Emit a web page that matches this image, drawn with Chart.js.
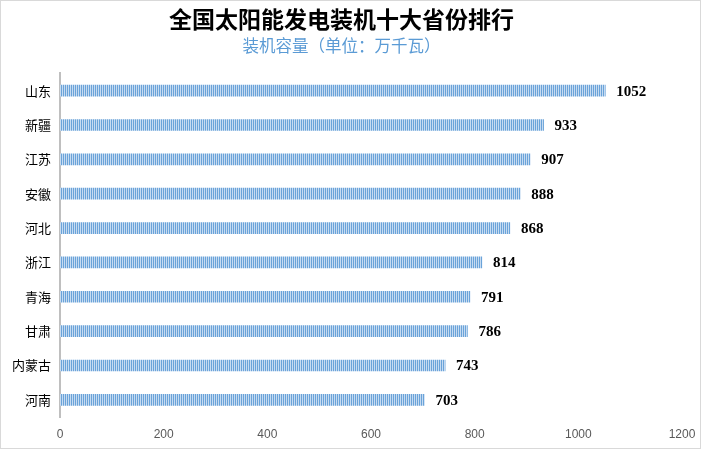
<!DOCTYPE html>
<html>
<head>
<meta charset="utf-8">
<script src="https://cdn.jsdelivr.net/npm/chart.js@4"></script>
<style>
  html, body { margin: 0; padding: 0; background: #fff; }
  .box { width: 701px; height: 449px; box-sizing: border-box; border: 1px solid #d9d9d9; }
  canvas { display: block; }
</style>
</head>
<body>
<div class="box"><canvas id="rank" width="699" height="447"></canvas></div>
<script>
"use strict";

// data
const provinces = ['山东', '新疆', '江苏', '安徽', '河北', '浙江', '青海', '甘肃', '内蒙古', '河南'];
const capacity = [1052, 933, 907, 888, 868, 814, 791, 786, 743, 703];
const xTicks = [0, 200, 400, 600, 800, 1000, 1200];

const titleText = '全国太阳能发电装机十大省份排行';
const subtitleText = '装机容量（单位：万千瓦）';

// striped fill for bars
function stripes() {
  let c = document.createElement('canvas');
  c.width = 2; c.height = 2;
  let g = c.getContext('2d');
  g.fillStyle = '#c6dbf1';
  g.fillRect(0, 0, 2, 2);
  g.fillStyle = '#6aa3d9';
  g.fillRect(0, 0, 1, 2);
  return g.createPattern(c, 'repeat');
}

// value labels after the bars
const valueLabels = {
  id: 'valueLabels',
  afterDatasetsDraw(chart) {
    const ctx = chart.ctx;
    const meta = chart.getDatasetMeta(0);
    ctx.save();
    ctx.font = 'bold 15px "Liberation Serif"';
    ctx.fillStyle = '#000';
    ctx.textBaseline = 'middle';
    meta.data.forEach((bar, i) => {
      ctx.fillText(capacity[i], bar.x + 11, bar.y + 1);
    });
    ctx.restore();
  }
};

const ctx = document.getElementById('rank');
new Chart(ctx, {
  type: 'bar',
  data: {
    labels: provinces,
    datasets: [{
      data: capacity,
      backgroundColor: stripes(),
      borderWidth: 0,
      barThickness: 11
    }]
  },
  options: {
    indexAxis: 'y',
    responsive: false,
    animation: false,
    layout: { padding: { left: 0, right: 18, top: 0, bottom: 0 } },
    plugins: {
      legend: { display: false },
      tooltip: { enabled: false },
      title: {
        display: true,
        text: titleText,
        color: '#000',
        font: { family: '"Noto Sans CJK SC"', size: 23, weight: 'bold', lineHeight: 1.1 },
        padding: { top: 6, bottom: 0 }
      },
      subtitle: {
        display: true,
        text: subtitleText,
        color: '#5b9bd5',
        font: { family: '"Noto Sans CJK SC"', size: 16.5, lineHeight: 1.1 },
        padding: { top: 4, bottom: 19 }
      }
    },
    scales: {
      x: {
        min: 0,
        max: 1200,
        afterBuildTicks: (axis) => { axis.ticks = xTicks.map(v => ({ value: v })); },
        grid: { display: false, drawTicks: false },
        border: { display: false },
        ticks: {
          color: '#595959',
          padding: 10,
          font: { family: '"Liberation Sans"', size: 12 },
          callback: (v) => String(v)
        },
        afterFit: (axis) => {
          axis.height = 31;
          axis.paddingLeft = 0;
          axis.paddingRight = 0;
        }
      },
      y: {
        grid: { display: false, drawTicks: false },
        border: { display: true, color: '#bfbfbf', width: 2 },
        ticks: {
          color: '#000',
          padding: 9,
          font: { family: '"Noto Sans CJK SC"', size: 13 }
        },
        afterFit: (axis) => { axis.width = 59; }
      }
    }
  },
  plugins: [valueLabels]
});
</script>
</body>
</html>
